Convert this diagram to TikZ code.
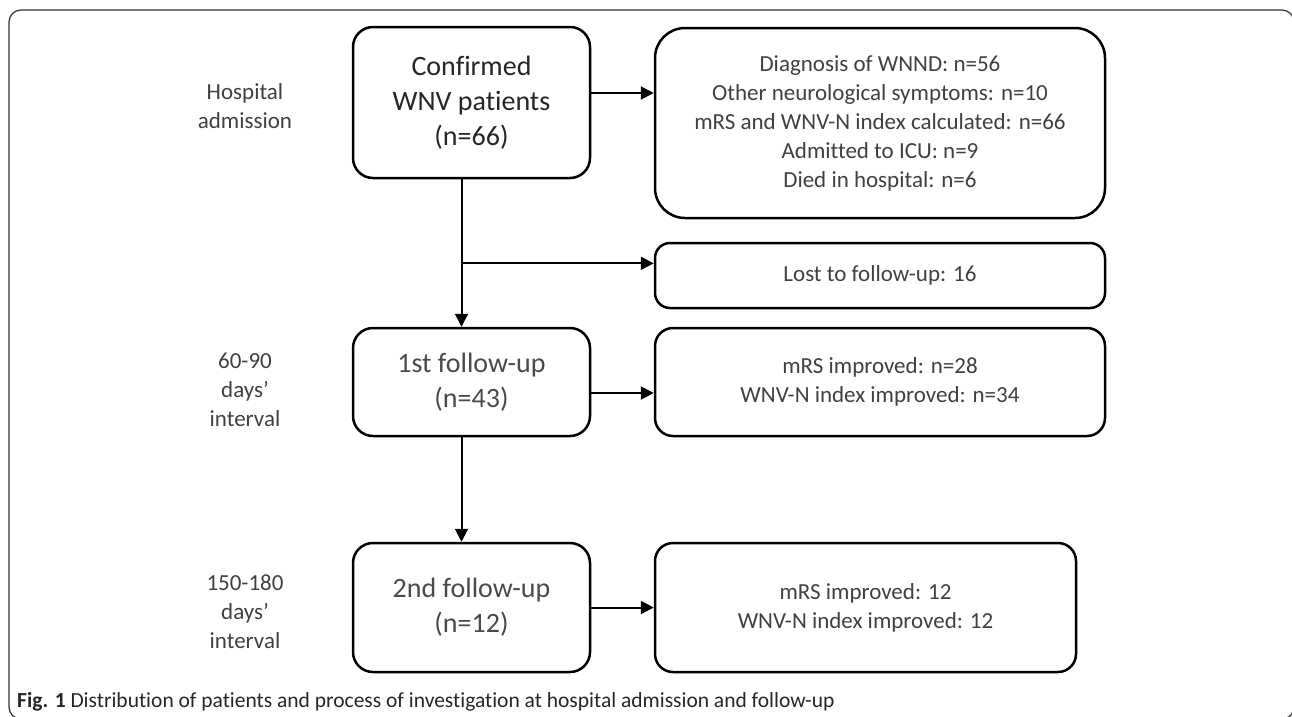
\documentclass[tikz,border=0pt]{standalone}
\usepackage{fontspec}
\setmainfont{Carlito}[Ligatures=NoCommon]
\usetikzlibrary{arrows.meta, calc}
\definecolor{txtgray}{HTML}{404040}
\definecolor{fugray}{HTML}{4A4A4A}
\tikzset{
  stagebox/.style={draw, line width=2.5pt, rounded corners=20pt, align=center, inner sep=0pt,
    font=\fontsize{28}{35}\selectfont, text=black!85},
  infobox/.style={draw, line width=2.5pt, rounded corners=18pt, align=center, inner sep=0pt,
    font=\fontsize{23}{29}\selectfont, text=txtgray},
  period/.style={align=center, font=\fontsize{23}{29}\selectfont, text=txtgray},
  link/.style={line width=2pt, -{Triangle[length=13pt,width=13pt]}},
}
\begin{document}
\begin{tikzpicture}[x=1pt,y=-1pt]
\useasboundingbox (0,0) rectangle (1292,716);
% Outer figure frame, cut at the page edge
\begin{scope}
\clip (0,0) rectangle (1292,716);
\draw[line width=1.2pt, black!80, rounded corners=12pt] (9,10) rectangle (1294,719);
\end{scope}
% Time points on the left
\node[period] (adm) at (245,106) {Hospital\\admission};
\node[period] (int1) at (245,390) {60-90\\days’\\interval};
\node[period] (int2) at (245,612) {150-180\\days’\\interval};
% Patient boxes
\node[stagebox, minimum width=237, minimum height=151] (conf) at (471.5,102.5) {Confirmed\\WNV patients\\(n=66)};
\node[stagebox, text=fugray, minimum width=237, minimum height=108] (fu1) at (471.5,382) {1st follow-up\\(n=43)};
\node[stagebox, text=fugray, minimum width=237, minimum height=129] (fu2) at (471.5,607.5) {2nd follow-up\\(n=12)};
% Result boxes
\node[infobox, rounded corners=30pt, minimum width=450, minimum height=190] (diag) at (880,123)
  {Diagnosis of WNND: n=56\\Other neurological symptoms: n=10\\mRS and WNV-N index calculated: n=66\\Admitted to ICU: n=9\\Died in hospital: n=6};
\node[infobox, rounded corners=15pt, minimum width=450, minimum height=65] (lost) at (880,275.5) {Lost to follow-up: 16};
\node[infobox, minimum width=450, minimum height=108] (imp1) at (880,382) {mRS improved: n=28\\WNV-N index improved: n=34};
\node[infobox, minimum width=421, minimum height=129] (imp2) at (865.5,607.5) {mRS improved: 12\\WNV-N index improved: 12};
% Connectors
\draw[link] ([yshift=9.5pt]conf.east) -- ([yshift=9.5pt]conf.east -| diag.west);
\draw[link] ([xshift=-10pt]conf.south) -- ([xshift=-10pt]fu1.north);
\coordinate (split) at ($([xshift=-10pt]conf.south)!0.57!([xshift=-10pt]fu1.north)$);
\draw[link] (split) -- (split -| lost.west);
\draw[link] ([yshift=-11pt]fu1.east) -- ([yshift=-11pt]fu1.east -| imp1.west);
\draw[link] ([xshift=-10pt]fu1.south) -- ([xshift=-10pt]fu2.north);
\draw[link] (fu2.east) -- (imp2.west);
% Caption
\node[anchor=base west, inner sep=0pt, font=\fontsize{21.5}{25}\selectfont, text=black!85] (cap) at (17,707)
  {\textbf{Fig. 1} Distribution of patients and process of investigation at hospital admission and follow-up};
\end{tikzpicture}
\end{document}
